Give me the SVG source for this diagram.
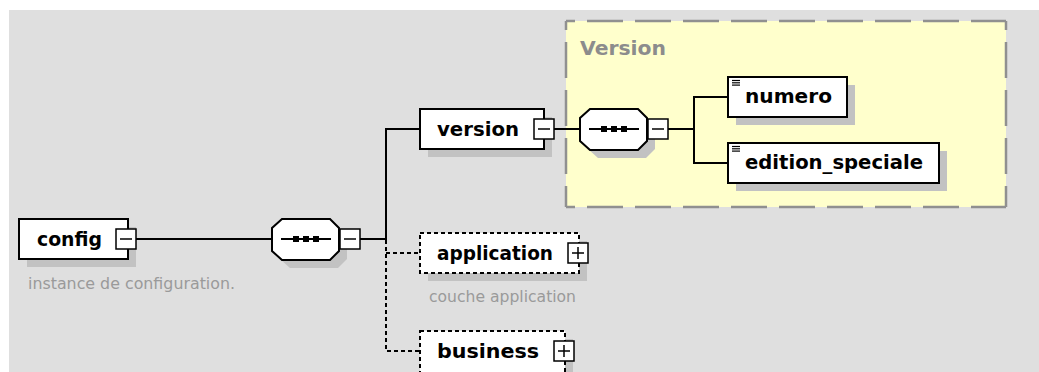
<svg xmlns="http://www.w3.org/2000/svg" width="1039" height="372" viewBox="0 0 1039 372">
<style>
.bg{fill:#dfdfdf}
.box{fill:#fff;stroke:#000;stroke-width:2}
.opt{fill:#fff;stroke:#000;stroke-width:2;stroke-dasharray:4 3}
.shadow{fill:#c2c2c2}
.btn{fill:#fff;stroke:#000;stroke-width:1.5}
.sign{stroke:#000;stroke-width:1.5;fill:none}
.lbl{font-family:"DejaVu Sans",sans-serif;font-weight:bold;font-size:20px;fill:#000}
.ann{font-family:"DejaVu Sans",sans-serif;font-size:15.5px;fill:#9a9a9a}
.conn{stroke:#000;stroke-width:2;fill:none}
.dash{stroke-dasharray:4 3}
.grp{stroke:#909090;stroke-width:2.5;stroke-dasharray:36 12;stroke-dashoffset:27;fill:none}
.icon{stroke:#000;stroke-width:1.2}
</style>
<defs>
<polygon id="oct" points="282,219 330,219 339,228 339,251 330,260 282,260 272,251 272,228"/>
</defs>
<rect x="0" y="0" width="1039" height="372" fill="#fff"/>
<rect class="bg" x="9" y="10" width="1030" height="362"/>

<g id="group-Version">
<rect x="566" y="21" width="440" height="186" fill="#ffffcc"/>
<line class="grp" x1="566" y1="21" x2="1006" y2="21"/>
<line class="grp" x1="1006" y1="21" x2="1006" y2="207"/>
<line class="grp" x1="566" y1="207" x2="1006" y2="207"/>
<line class="grp" x1="566" y1="21" x2="566" y2="207"/>
<text class="lbl" x="580" y="55" style="fill:#8c8c8c" textLength="86" lengthAdjust="spacingAndGlyphs">Version</text>
</g>

<g id="connectors">
<line class="conn" x1="136" y1="239" x2="272" y2="239"/>
<line class="conn" x1="360" y1="239" x2="386" y2="239"/>
<polyline class="conn" points="420,129 386,129 386,240"/>
<polyline class="conn dash" points="386,240 386,351 420,351"/>
<line class="conn dash" x1="386" y1="253" x2="420" y2="253"/>
<line class="conn" x1="554" y1="129" x2="580" y2="129"/>
<line class="conn" x1="668" y1="129" x2="694" y2="129"/>
<polyline class="conn" points="728,97 694,97 694,163 728,163"/>
</g>

<g id="config">
<rect class="shadow" x="27" y="227" width="109" height="40"/>
<rect class="box" x="19" y="219" width="109" height="40"/>
<text class="lbl" x="37" y="246" textLength="65" lengthAdjust="spacingAndGlyphs">config</text>
<rect class="btn" x="116" y="229" width="20" height="20"/>
<line class="sign" x1="120" y1="239" x2="132" y2="239"/>
<text class="ann" x="28" y="289" textLength="207" lengthAdjust="spacingAndGlyphs">instance de configuration.</text>
</g>

<g id="sequence-config">
<use href="#oct" transform="translate(8,8)" class="shadow"/>
<use href="#oct" class="box"/>
<line class="conn" x1="281" y1="239" x2="331" y2="239"/>
<rect x="293" y="236" width="6" height="6"/>
<rect x="303" y="236" width="6" height="6"/>
<rect x="313" y="236" width="6" height="6"/>
<rect class="btn" x="340" y="229" width="20" height="20"/>
<line class="sign" x1="344" y1="239" x2="356" y2="239"/>
</g>

<g id="version">
<rect class="shadow" x="428" y="117" width="124" height="40"/>
<rect class="box" x="420" y="109" width="124" height="40"/>
<text class="lbl" x="437" y="136" textLength="82" lengthAdjust="spacingAndGlyphs">version</text>
<rect class="btn" x="534" y="119" width="20" height="20"/>
<line class="sign" x1="538" y1="129" x2="550" y2="129"/>
</g>

<g id="sequence-version">
<use href="#oct" transform="translate(316,-102)" class="shadow"/>
<use href="#oct" transform="translate(308,-110)" class="box"/>
<line class="conn" x1="589" y1="129" x2="639" y2="129"/>
<rect x="601" y="126" width="6" height="6"/>
<rect x="611" y="126" width="6" height="6"/>
<rect x="621" y="126" width="6" height="6"/>
<rect class="btn" x="648" y="119" width="20" height="20"/>
<line class="sign" x1="652" y1="129" x2="664" y2="129"/>
</g>

<g id="numero">
<rect class="shadow" x="736" y="85" width="119" height="40"/>
<rect class="box" x="728" y="77" width="119" height="40"/>
<line class="icon" x1="732" y1="80.5" x2="740" y2="80.5"/>
<line class="icon" x1="732" y1="82.8" x2="740" y2="82.8"/>
<line class="icon" x1="732" y1="85.1" x2="740" y2="85.1"/>
<text class="lbl" x="745" y="103" textLength="87" lengthAdjust="spacingAndGlyphs">numero</text>
</g>

<g id="edition_speciale">
<rect class="shadow" x="736" y="151" width="211" height="40"/>
<rect class="box" x="728" y="143" width="211" height="40"/>
<line class="icon" x1="732" y1="146.5" x2="740" y2="146.5"/>
<line class="icon" x1="732" y1="148.8" x2="740" y2="148.8"/>
<line class="icon" x1="732" y1="151.1" x2="740" y2="151.1"/>
<text class="lbl" x="745" y="169" textLength="178" lengthAdjust="spacingAndGlyphs">edition_speciale</text>
</g>

<g id="application">
<rect class="shadow" x="428" y="241" width="159" height="40"/>
<rect class="opt" x="420" y="233" width="159" height="40"/>
<text class="lbl" x="437" y="260" textLength="116" lengthAdjust="spacingAndGlyphs">application</text>
<rect class="btn" x="568" y="243" width="20" height="20"/>
<path class="sign" d="M572 253H584M578 247V259"/>
<text class="ann" x="429" y="302" textLength="147" lengthAdjust="spacingAndGlyphs">couche application</text>
</g>

<g id="business">
<rect class="shadow" x="428" y="339" width="145" height="45"/>
<rect class="opt" x="420" y="331" width="145" height="45"/>
<text class="lbl" x="437" y="358" textLength="102" lengthAdjust="spacingAndGlyphs">business</text>
<rect class="btn" x="554" y="341" width="20" height="20"/>
<path class="sign" d="M558 351H570M564 345V357"/>
</g>
</svg>
